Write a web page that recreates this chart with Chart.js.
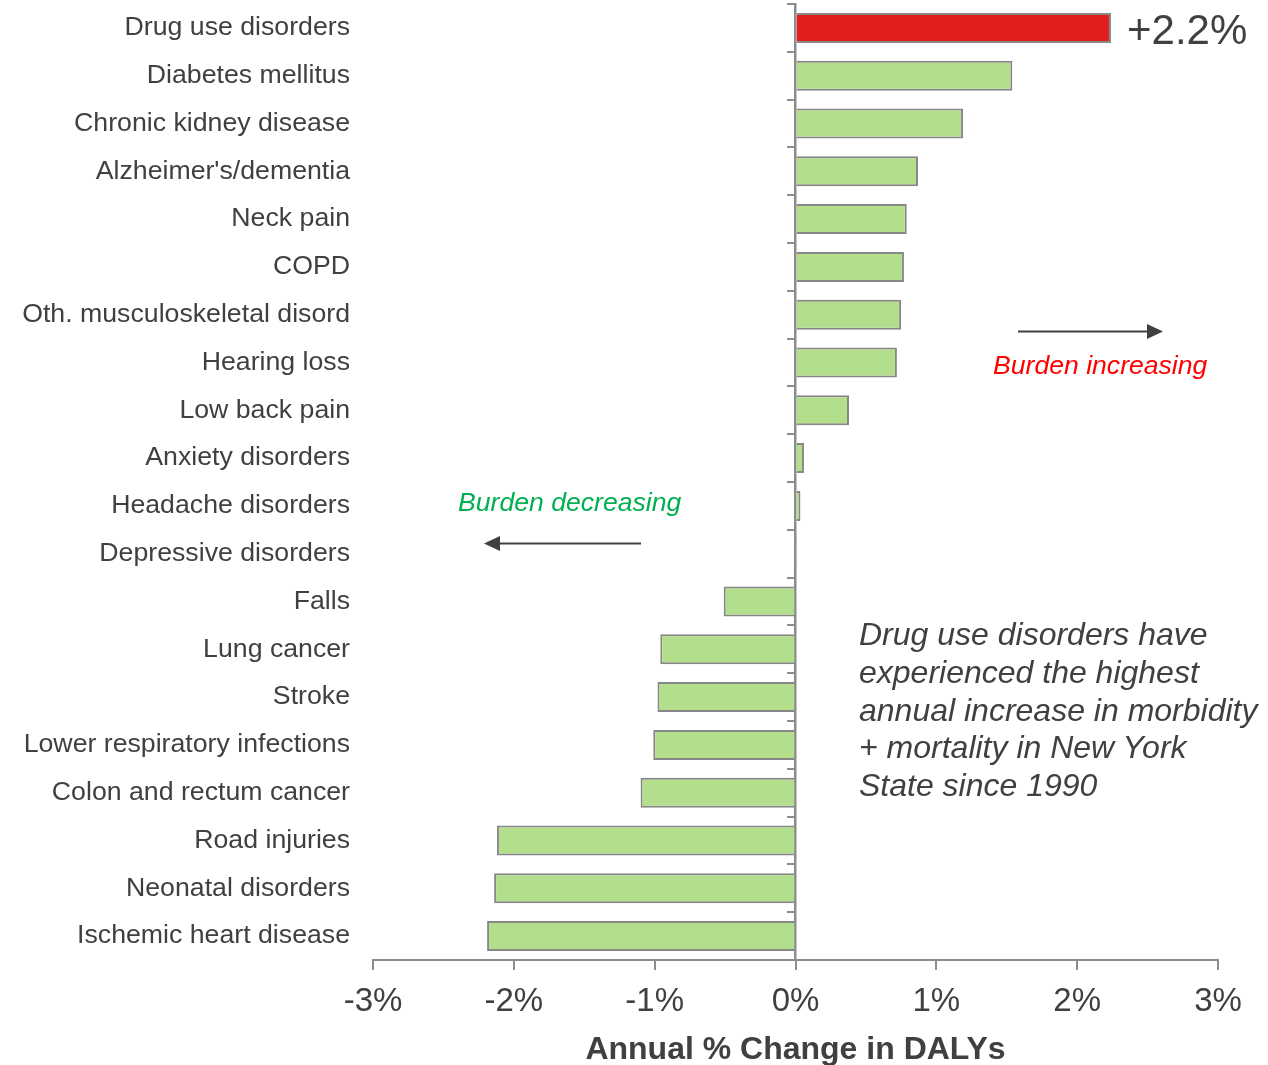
<!DOCTYPE html>
<html>
<head>
<meta charset="utf-8">
<script src="https://cdn.jsdelivr.net/npm/chart.js@4/dist/chart.umd.min.js"></script>
<style>
  html, body { margin: 0; padding: 0; background: #ffffff; }
  #wrap { position: relative; width: 1268px; height: 1065px; overflow: hidden; }
  #c { position: absolute; left: 0; top: 0; }
  .ann { position: absolute; white-space: pre; font-family: "Liberation Sans", Arial, sans-serif; }
</style>
</head>
<body>
<div id="wrap">
  <canvas id="c" width="1268" height="1065"></canvas>
</div>
<script>
// ---------- data ----------
const categories = [
  "Drug use disorders",
  "Diabetes mellitus",
  "Chronic kidney disease",
  "Alzheimer's/dementia",
  "Neck pain",
  "COPD",
  "Oth. musculoskeletal disord",
  "Hearing loss",
  "Low back pain",
  "Anxiety disorders",
  "Headache disorders",
  "Depressive disorders",
  "Falls",
  "Lung cancer",
  "Stroke",
  "Lower respiratory infections",
  "Colon and rectum cancer",
  "Road injuries",
  "Neonatal disorders",
  "Ischemic heart disease"
];
const annualPctChange = [
  2.24, 1.54, 1.19, 0.87, 0.79, 0.77, 0.75, 0.72, 0.38, 0.06,
  0.035, 0.012, -0.51, -0.96, -0.98, -1.01, -1.10, -2.12, -2.14, -2.19
];
const xTickValues = [-3, -2, -1, 0, 1, 2, 3];
const highlightLabel = "+2.2%";
const increasingLabel = "Burden increasing";
const decreasingLabel = "Burden decreasing";
const noteLines = [
  "Drug use disorders have",
  "experienced the highest",
  "annual increase in morbidity",
  "+ mortality in New York",
  "State since 1990"
];
const axisTitle = "Annual % Change in DALYs";

// ---------- styles ----------
const FONT = '"Liberation Sans", Arial, sans-serif';
const TEXT = '#404040';
const AXIS = '#8c8c8c';
const GREEN = '#b3df8c';
const RED = '#e31e1e';

const arrowPlugin = {
  id: 'arrows',
  afterDraw(chart) {
    const ctx = chart.ctx;
    function arrow(x1, y, x2) {
      const dir = Math.sign(x2 - x1);
      ctx.save();
      ctx.strokeStyle = TEXT; ctx.fillStyle = TEXT; ctx.lineWidth = 2;
      ctx.beginPath(); ctx.moveTo(x1, y); ctx.lineTo(x2 - dir * 14, y); ctx.stroke();
      ctx.beginPath(); ctx.moveTo(x2, y); ctx.lineTo(x2 - dir * 16, y - 7.5); ctx.lineTo(x2 - dir * 16, y + 7.5); ctx.closePath(); ctx.fill();
      ctx.restore();
    }
    arrow(1018, 331.5, 1163);
    arrow(641, 543.5, 484);
  }
};

new Chart(document.getElementById('c'), {
  type: 'bar',
  data: {
    labels: categories,
    datasets: [{
      data: annualPctChange,
      backgroundColor: ctx => ctx.dataIndex === 0 ? RED : GREEN,
      borderColor: '#878787',
      borderWidth: 2,
      borderSkipped: 'start',
      barPercentage: 0.628,
      categoryPercentage: 1.0,
      yAxisID: 'y'
    }]
  },
  options: {
    indexAxis: 'y',
    responsive: false,
    animation: false,
    events: [],
    layout: { padding: { top: 4, right: 50, left: 0, bottom: 0 } },
    plugins: { legend: { display: false }, tooltip: { enabled: false } },
    scales: {
      x: {
        type: 'linear',
        min: -3, max: 3,
        afterBuildTicks: s => { s.ticks = xTickValues.map(v => ({ value: v })); },
        grid: { drawOnChartArea: false, drawTicks: true, tickLength: 10, color: AXIS, lineWidth: 2 },
        border: { color: AXIS, width: 2 },
        ticks: { font: { size: 33, family: FONT }, color: TEXT, padding: 12, maxRotation: 0, callback: v => v + '%' },
        title: { display: true, text: axisTitle, color: TEXT, font: { size: 32, weight: 'bold', family: FONT }, padding: { top: 0, bottom: -4 } },
        afterFit: s => { s.height = 105; }
      },
      y: {
        type: 'category',
        offset: true,
        grid: { display: false, drawTicks: false },
        border: { display: false },
        ticks: { font: { size: 26.7, family: FONT }, color: TEXT, padding: 23, autoSkip: false },
        afterFit: s => { s.width = 373; s.paddingTop = 0; s.paddingBottom = 0; }
      },
      y2: {
        type: 'category',
        axis: 'y',
        offset: true,
        position: { x: 0 },
        grid: { offset: true, drawOnChartArea: false, drawTicks: true, tickLength: 7, color: AXIS, lineWidth: 2 },
        border: { color: AXIS, width: 2.5 },
        ticks: { display: false },
        afterFit: s => { s.width = 0; s.paddingTop = 0; s.paddingBottom = 0; }
      }
    }
  },
  plugins: [arrowPlugin]
});

// ---------- text annotations (real HTML text) ----------
const wrap = document.getElementById('wrap');
function addText(text, left, baseline, size, color, style, lineH) {
  const d = document.createElement('div');
  d.className = 'ann';
  d.textContent = text;
  const L = lineH || size;
  d.style.fontSize = size + 'px';
  d.style.lineHeight = L + 'px';
  d.style.color = color;
  d.style.fontStyle = style || 'normal';
  d.style.left = left + 'px';
  d.style.top = (baseline - ((L - 1.117 * size) / 2 + 0.905 * size)) + 'px';
  wrap.appendChild(d);
}
addText(highlightLabel, 1127, 45, 42, TEXT);
addText(increasingLabel, 993, 375, 26.6, '#ff0000', 'italic');
addText(decreasingLabel, 458, 512, 26.6, '#00b050', 'italic');
addText(noteLines.join('\n'), 859, 646, 32, TEXT, 'italic', 37.8);
</script>
</body>
</html>
